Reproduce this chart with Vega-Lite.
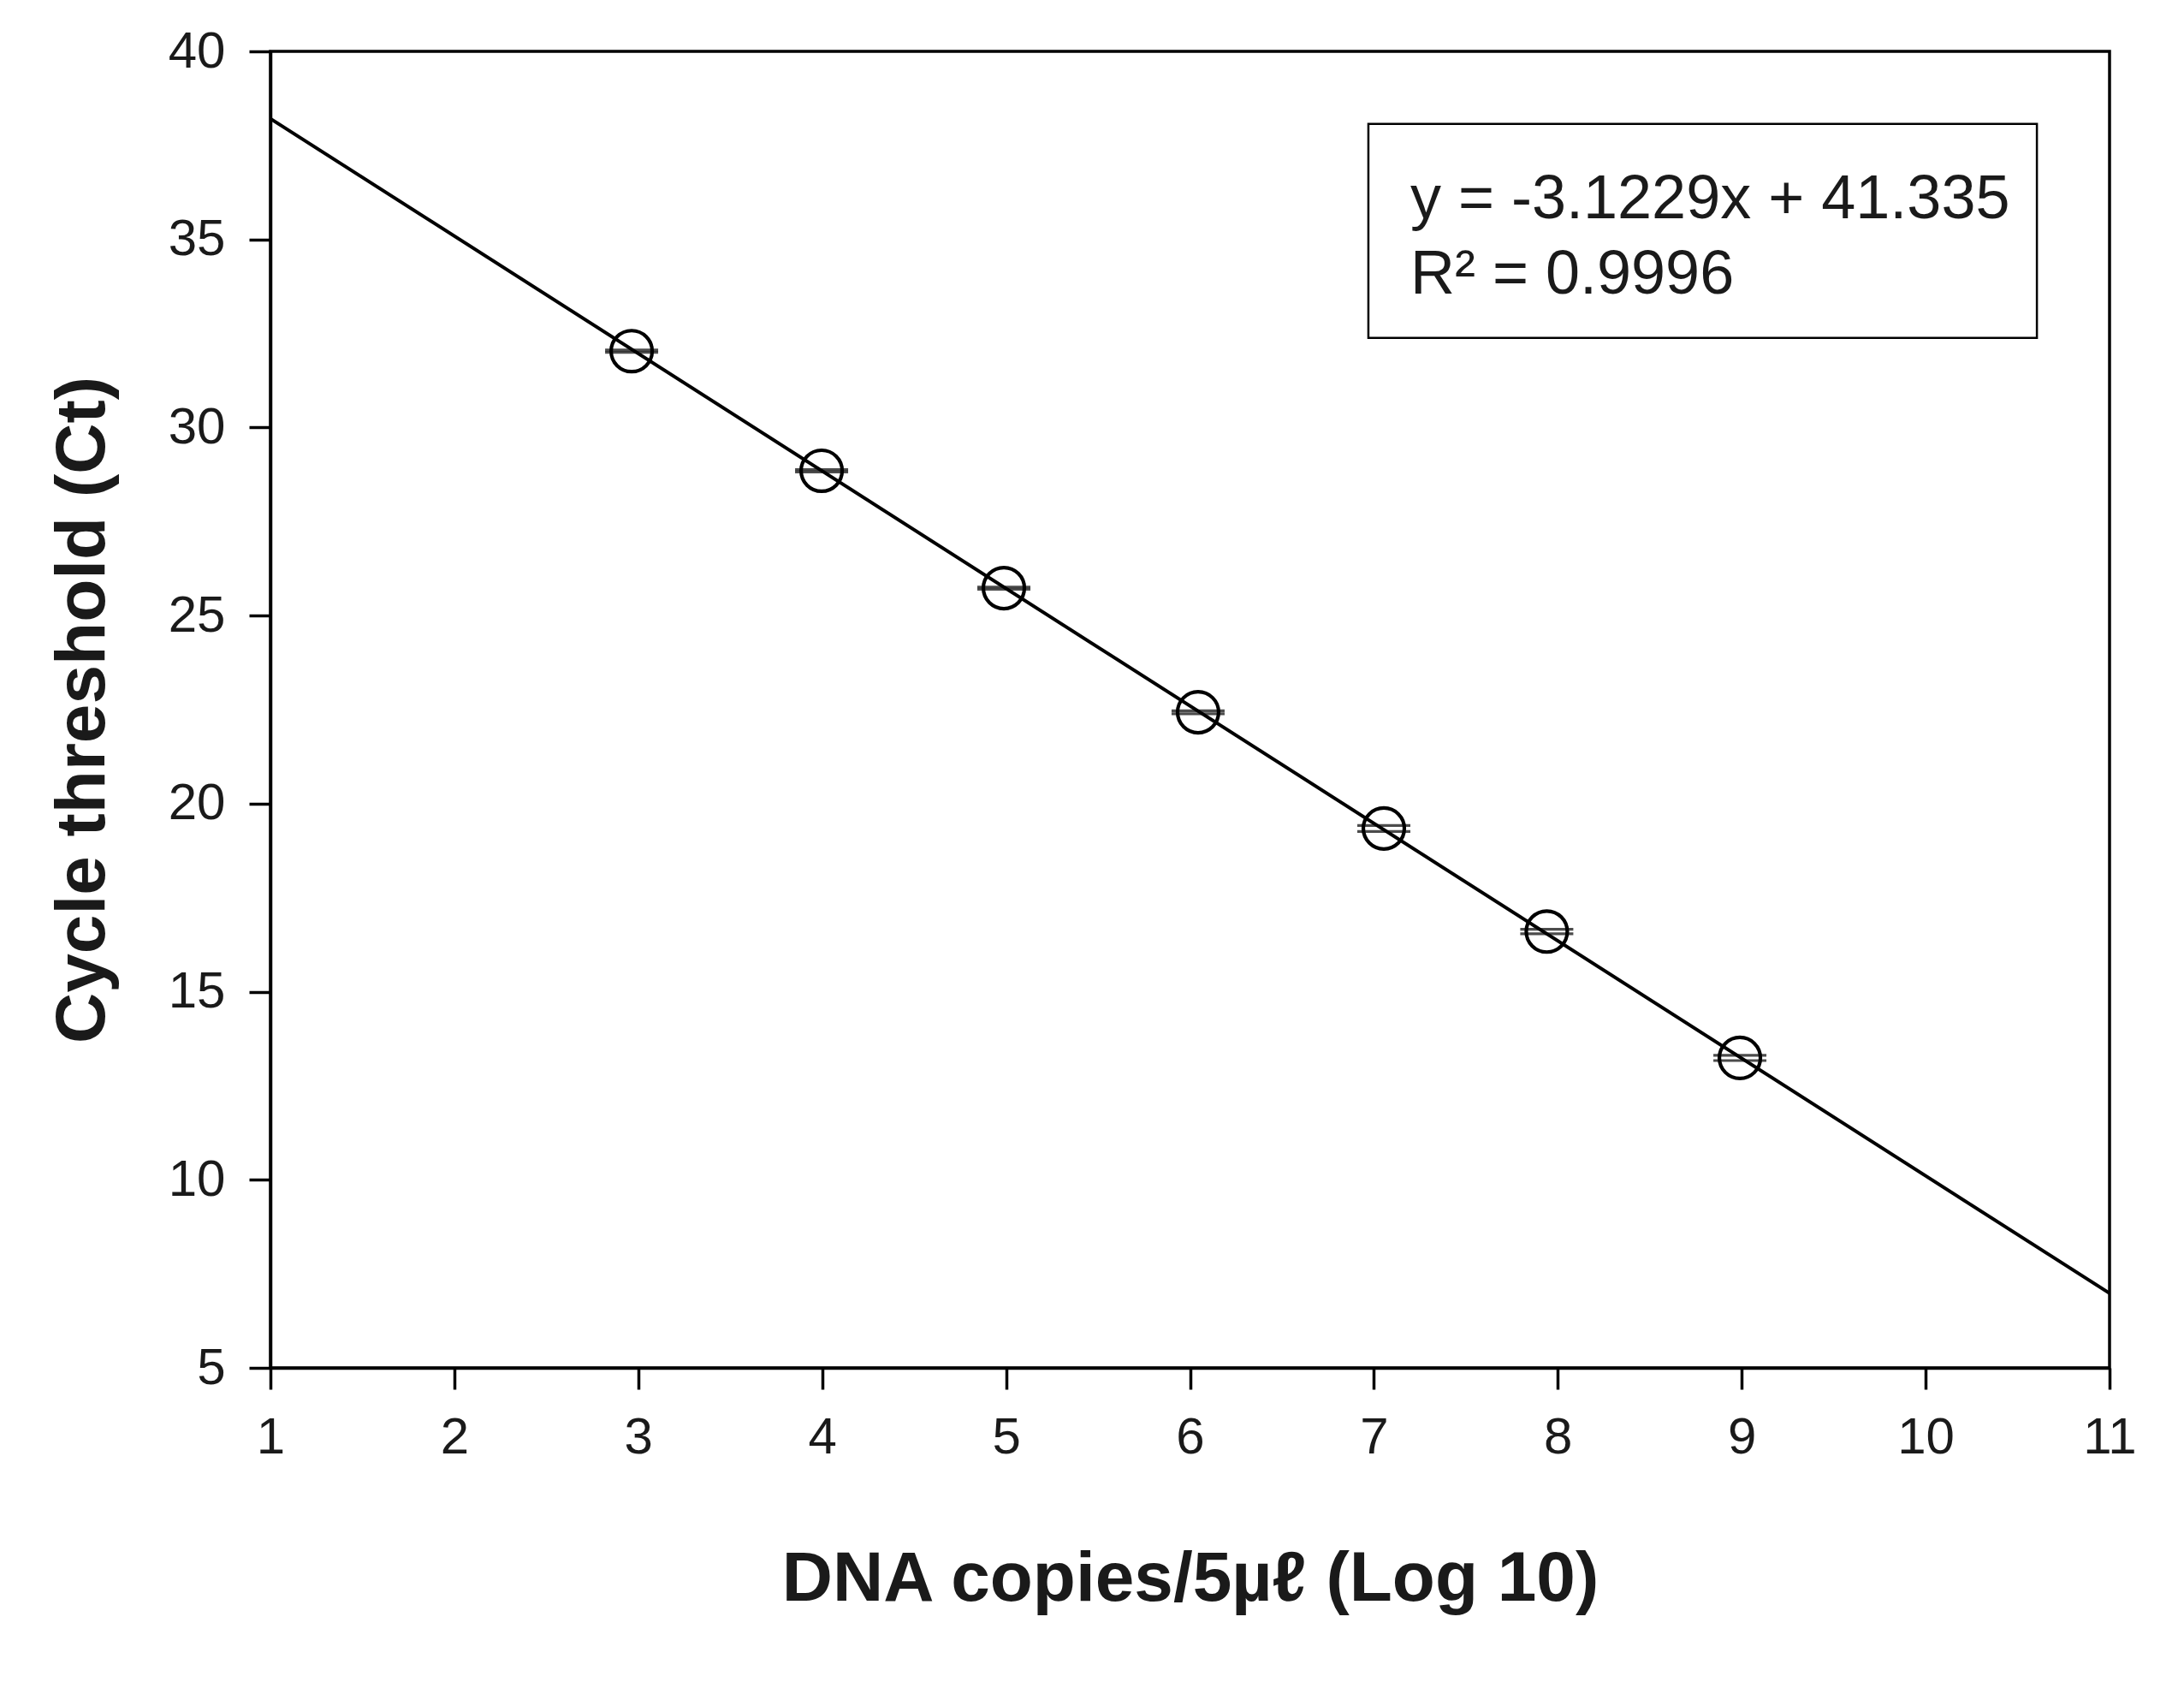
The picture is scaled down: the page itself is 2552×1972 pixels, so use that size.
{
  "$schema": "https://vega.github.io/schema/vega-lite/v6.json",
  "autosize": {"type": "none"},
  "width": 2149,
  "height": 1538,
  "padding": {"left": 316, "top": 60, "right": 87, "bottom": 374},
  "background": "white",
  "config": {
    "view": {"stroke": "black", "strokeWidth": 3.5},
    "axis": {
      "grid": false,
      "domainColor": "black",
      "domainWidth": 3.5,
      "tickColor": "black",
      "tickWidth": 3.5,
      "tickSize": 25,
      "labelFont": "Liberation Sans Narrow, Liberation Sans, Arial",
      "labelFontSize": 60,
      "labelColor": "#1a1a1a",
      "titleFont": "Liberation Sans, Arial",
      "titleFontSize": 82,
      "titleFontWeight": "bold",
      "titleColor": "#1a1a1a"
    }
  },
  "layer": [
    {
      "data": {"values": [{"x": 6.97, "x2": 10.605, "y": 38.07, "y2": 32.38}]},
      "mark": {"type": "rect", "fill": "white", "stroke": "black", "strokeWidth": 2.5},
      "encoding": {
        "x": {"field": "x", "type": "quantitative", "scale": {"domain": [1, 11], "nice": false, "zero": false},
              "axis": {"values": [1,2,3,4,5,6,7,8,9,10,11], "format": "d", "title": "DNA copies/5µℓ (Log 10)", "labelPadding": 27, "titlePadding": 95, "labelFlush": false}},
        "x2": {"field": "x2"},
        "y": {"field": "y", "type": "quantitative", "scale": {"domain": [5, 40], "nice": false, "zero": false},
              "axis": {"values": [5,10,15,20,25,30,35,40], "format": "d", "title": "Cycle threshold (Ct)", "labelPadding": 28, "titlePadding": 58, "labelFlush": false}},
        "y2": {"field": "y2"}
      }
    },
    {
      "data": {"values": [{"x": 1, "y": 38.212}, {"x": 11, "y": 6.983}]},
      "mark": {"type": "line", "color": "black", "strokeWidth": 4, "clip": true},
      "encoding": {
        "x": {"field": "x", "type": "quantitative"},
        "y": {"field": "y", "type": "quantitative"}
      }
    },
    {
      "data": {"name": "pts", "values": [
        {"x": 2.964, "y": 32.03, "lo": 32.0, "hi": 32.06},
        {"x": 3.997, "y": 28.85, "lo": 28.82, "hi": 28.88},
        {"x": 4.988, "y": 25.73, "lo": 25.7, "hi": 25.76},
        {"x": 6.044, "y": 22.43, "lo": 22.39, "hi": 22.47},
        {"x": 7.054, "y": 19.34, "lo": 19.26, "hi": 19.42},
        {"x": 7.94, "y": 16.6, "lo": 16.54, "hi": 16.66},
        {"x": 8.99, "y": 13.24, "lo": 13.17, "hi": 13.31}
      ]},
      "layer": [
        {
          "mark": {"type": "tick", "orient": "horizontal", "size": 62, "thickness": 3.2, "color": "black"},
          "encoding": {
            "x": {"field": "x", "type": "quantitative"},
            "y": {"field": "lo", "type": "quantitative"}
          }
        },
        {
          "mark": {"type": "tick", "orient": "horizontal", "size": 62, "thickness": 3.2, "color": "black"},
          "encoding": {
            "x": {"field": "x", "type": "quantitative"},
            "y": {"field": "hi", "type": "quantitative"}
          }
        },
        {
          "mark": {"type": "point", "shape": "circle", "filled": false, "size": 2300, "stroke": "black", "strokeWidth": 4.2, "opacity": 1},
          "encoding": {
            "x": {"field": "x", "type": "quantitative"},
            "y": {"field": "y", "type": "quantitative"}
          }
        }
      ]
    },
    {
      "data": {"values": [
        {"x": 7.198, "y": 35.56, "t": "y = -3.1229x + 41.335"},
        {"x": 7.198, "y": 33.56, "t": "R² = 0.9996"}
      ]},
      "mark": {"type": "text", "align": "left", "baseline": "alphabetic", "font": "Liberation Sans, Arial", "fontSize": 72, "color": "#1a1a1a"},
      "encoding": {
        "x": {"field": "x", "type": "quantitative"},
        "y": {"field": "y", "type": "quantitative"},
        "text": {"field": "t"}
      }
    }
  ]
}
